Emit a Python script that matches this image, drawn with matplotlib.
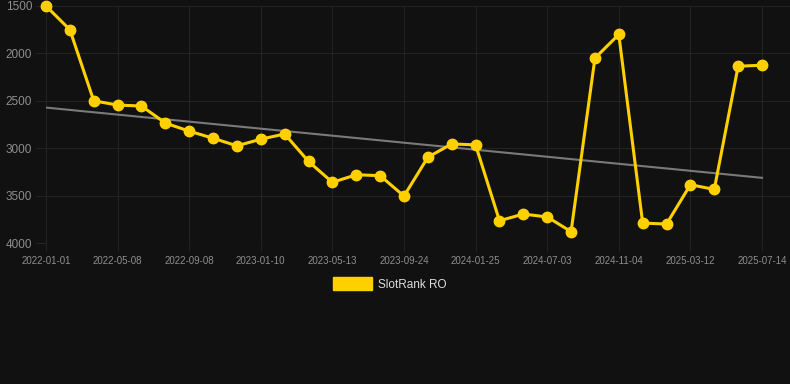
import numpy as np
import matplotlib
matplotlib.use('Agg')
import matplotlib.pyplot as plt

plt.rcParams['font.family'] = ['Liberation Sans', 'DejaVu Sans']

# every third date is labelled on the axis
tick_labels = ['2022-01-01', '2022-05-08', '2022-09-08', '2023-01-10', '2023-05-13',
               '2023-09-24', '2024-01-25', '2024-07-03', '2024-11-04', '2025-03-12',
               '2025-07-14']
rank = [1500, 1750, 2500, 2545, 2555, 2735, 2820, 2895, 2975, 2905, 2850,
        3140, 3360, 3280, 3290, 3505, 3095, 2955, 2965, 3765, 3695, 3725,
        3880, 2050, 1800, 3790, 3800, 3385, 3435, 2135, 2125]

x = np.arange(len(rank))
slope, icpt = np.polyfit(x, rank, 1)

bg = '#111111'
fig = plt.figure(figsize=(7.9, 3.84), dpi=100, facecolor=bg)
ax = fig.add_axes([46/790, 1 - 243/384, 744/790, 237/384], facecolor=bg)

ax.plot(x, slope * x + icpt, color='#7a7a7a', lw=1.5, zorder=2)
ax.plot(x, rank, color='#FFD000', lw=2.2, marker='o', ms=7.5, zorder=3,
        clip_on=False, label='SlotRank RO')

ax.set_xlim(0, 30 + 28/23.87)
ax.set_ylim(4000, 1500)
ax.set_yticks([1500, 2000, 2500, 3000, 3500, 4000])
ax.set_xticks(x[::3])
ax.set_xticklabels(tick_labels)
ax.grid(True, color='#232323', lw=0.8)
for s in ax.spines.values():
    s.set_visible(False)
ax.tick_params(axis='y', colors='#232323', labelcolor='#8e8e8e', labelsize=8.5,
               length=8, pad=2)
ax.tick_params(axis='x', colors='#232323', labelcolor='#8e8e8e', labelsize=7,
               length=6, pad=3)

leg = fig.legend(handles=[plt.Rectangle((0, 0), 1, 1, color='#FFD000')],
                 labels=['SlotRank RO'], loc='center', bbox_to_anchor=(0.493, 1 - 284/384),
                 frameon=False, fontsize=8.5, handlelength=3.3, handleheight=1.2,
                 handletextpad=0.5)
for t in leg.get_texts():
    t.set_color('#dddddd')

fig.savefig('out.png', dpi=100, facecolor=bg)
